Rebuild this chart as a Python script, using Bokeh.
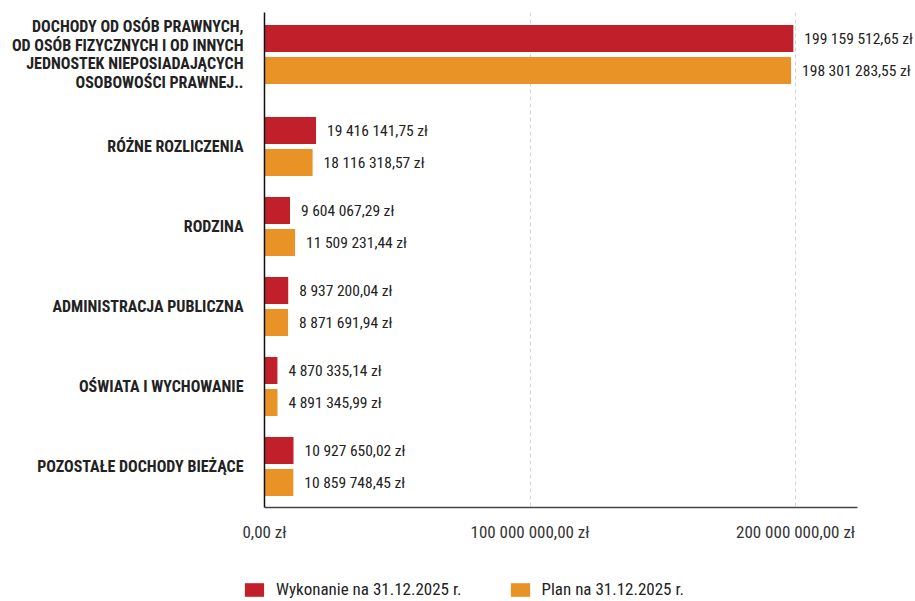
from bokeh.plotting import figure
from bokeh.layouts import column
from bokeh.models import (ColumnDataSource, Range1d, FixedTicker, LabelSet,
                          Legend, LegendItem)
from bokeh.core.properties import value
from bokeh.embed import file_html
from bokeh.resources import INLINE

categories = [
    "DOCHODY OD OSÓB PRAWNYCH,\nOD OSÓB FIZYCZNYCH I OD INNYCH\nJEDNOSTEK NIEPOSIADAJĄCYCH\nOSOBOWOŚCI PRAWNEJ..",
    "RÓŻNE ROZLICZENIA",
    "RODZINA",
    "ADMINISTRACJA PUBLICZNA",
    "OŚWIATA I WYCHOWANIE",
    "POZOSTAŁE DOCHODY BIEŻĄCE",
]
wykonanie = [199159512.65, 19416141.75, 9604067.29, 8937200.04, 4870335.14, 10927650.02]
plan = [198301283.55, 18116318.57, 11509231.44, 8871691.94, 4891345.99, 10859748.45]
series_names = ["Wykonanie na 31.12.2025 r.", "Plan na 31.12.2025 r."]
x_ticks = [0, 100000000, 200000000]

RED = "#C1202B"
ORANGE = "#E99326"
FONT = "Roboto Condensed"


def pln(v):
    s = f"{v:,.2f}".replace(",", " ").replace(".", ",")
    return s + " zł"


# group centres (units of one group); the multi-line first label gets extra room
centres = []
pos = 0.0
for i, c in enumerate(categories):
    if i > 0:
        pos += 1.0
    if i == 1:
        pos += 0.05 * categories[0].count("\n")
    centres.append(pos)

OFF = 0.2
BAR_H = 0.3375
y_red = [c - OFF for c in centres]
y_org = [c + OFF for c in centres]

src_red = ColumnDataSource(dict(y=y_red, x=wykonanie, t=[pln(v) for v in wykonanie]))
src_org = ColumnDataSource(dict(y=y_org, x=plan, t=[pln(v) for v in plan]))

X_AXIS_END = 223.3e6
p = figure(width=915, height=565, output_backend="svg", toolbar_location=None,
           x_range=Range1d(0, 244.4e6), y_range=Range1d(5.6625, -0.525),
           min_border_left=264, min_border_right=2, min_border_top=12,
           min_border_bottom=58)
p.outline_line_color = None
p.background_fill_color = "white"

r1 = p.hbar(y="y", right="x", left=0, height=BAR_H, source=src_red,
            fill_color=RED, line_color=None)
r2 = p.hbar(y="y", right="x", left=0, height=BAR_H, source=src_org,
            fill_color=ORANGE, line_color=None)

for src in (src_red, src_org):
    p.add_layout(LabelSet(x="x", y="y", text="t", source=src, x_offset=11,
                          text_baseline="middle", text_align="left",
                          text_font=value(FONT), text_font_size="15.5px",
                          text_color="#222222"))

# y axis: category labels
p.yaxis.ticker = FixedTicker(ticks=centres)
p.yaxis.major_label_overrides = {c: lab for c, lab in zip(centres, categories)}
p.yaxis.axis_line_color = "#111111"
p.yaxis.axis_line_width = 1.5
p.yaxis.major_tick_line_color = None
p.yaxis.minor_tick_line_color = None
p.yaxis.major_label_standoff = 15
p.yaxis.major_label_text_font = FONT
p.yaxis.major_label_text_font_size = "16px"
p.yaxis.major_label_text_font_style = "bold"
p.yaxis.major_label_text_color = "#222222"
p.yaxis.major_label_text_line_height = 0.97

# x axis
p.xaxis.ticker = FixedTicker(ticks=x_ticks)
p.xaxis.bounds = (0, X_AXIS_END)
p.xaxis.major_label_overrides = {t: pln(t) for t in x_ticks}
p.xaxis.axis_line_color = "#444444"
p.xaxis.axis_line_width = 1.5
p.xaxis.major_tick_line_color = None
p.xaxis.minor_tick_line_color = None
p.xaxis.major_label_standoff = 8
p.xaxis.major_label_text_font = FONT
p.xaxis.major_label_text_font_size = "17px"
p.xaxis.major_label_text_color = "#333333"

p.ygrid.grid_line_color = None
p.xgrid.ticker = FixedTicker(ticks=x_ticks[1:])
p.xgrid.grid_line_color = "#d6d6d6"
p.xgrid.grid_line_dash = "4 3"

# legend strip below the chart (its renderers hold the real series, out of view)
lg = figure(width=915, height=36, output_backend="svg", toolbar_location=None,
            x_range=Range1d(0, 915), y_range=Range1d(100, 136),
            x_axis_type=None, y_axis_type=None,
            min_border_left=0, min_border_right=0, min_border_top=0,
            min_border_bottom=0)
lg.frame_align = False
lg.outline_line_color = None
lg.grid.visible = False
l1 = lg.hbar(y="y", right="x", left=0, height=BAR_H, source=src_red,
             fill_color=RED, line_color=None)
l2 = lg.hbar(y="y", right="x", left=0, height=BAR_H, source=src_org,
             fill_color=ORANGE, line_color=None)
legend = Legend(items=[LegendItem(label=series_names[0], renderers=[l1]),
                       LegendItem(label=series_names[1], renderers=[l2])],
                orientation="horizontal", location=(242, 2),
                glyph_width=24, glyph_height=17, label_standoff=10, spacing=46,
                padding=0, margin=0, border_line_alpha=0,
                background_fill_alpha=0, label_text_font=FONT,
                label_text_font_size="17px", label_text_color="#222222",
                label_height=17)
lg.add_layout(legend)

open("out.html", "w").write(file_html(column(p, lg), INLINE))
